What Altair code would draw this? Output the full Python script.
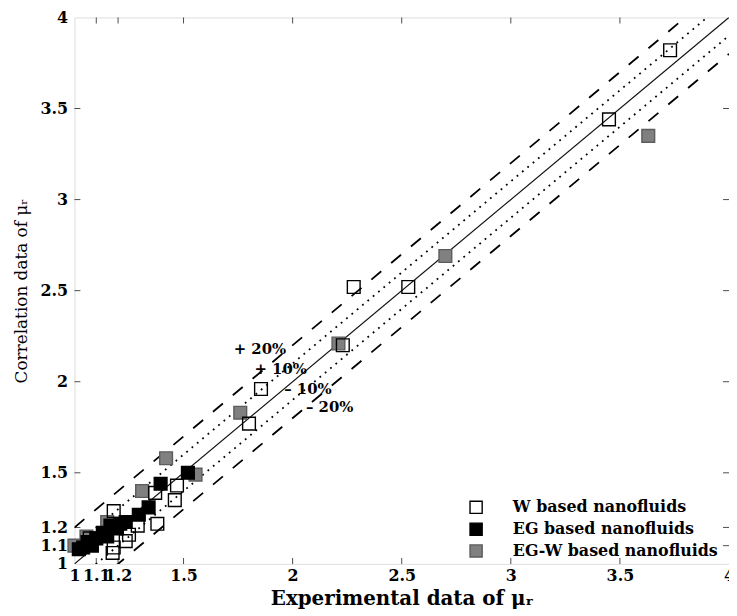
import altair as alt
import pandas as pd

# ---- data ----
W_x = [3.73, 3.45, 2.53, 2.28, 2.23, 1.855, 1.80, 1.47, 1.46, 1.37, 1.38, 1.29, 1.25, 1.235, 1.18, 1.18, 1.175, 1.07]
W_y = [3.82, 3.44, 2.52, 2.52, 2.20, 1.96, 1.77, 1.43, 1.35, 1.39, 1.22, 1.21, 1.16, 1.125, 1.29, 1.09, 1.06, 1.14]

EG_x = [1.52, 1.395, 1.34, 1.295, 1.235, 1.21, 1.195, 1.165, 1.15, 1.13, 1.10, 1.08, 1.06, 1.04, 1.02]
EG_y = [1.50, 1.44, 1.31, 1.27, 1.23, 1.22, 1.195, 1.21, 1.15, 1.17, 1.14, 1.10, 1.12, 1.09, 1.08]

EGW_x = [3.63, 2.70, 2.21, 1.76, 1.42, 1.555, 1.31, 1.15, 1.00, 1.055]
EGW_y = [3.35, 2.69, 2.21, 1.83, 1.58, 1.49, 1.40, 1.23, 1.10, 1.15]

series_names = ["W based nanofluids", "EG based nanofluids", "EG-W based nanofluids"]
fill_colors = ["transparent", "black", "#808080"]
stroke_colors = ["black", "black", "#5c5c5c"]

tick_values = [1, 1.1, 1.2, 1.5, 2, 2.5, 3, 3.5, 4]
inner_ticks = [1.1, 1.2, 1.5, 2, 2.5, 3, 3.5]

solid_offsets = [0.0]
dotted_offsets = [0.1, -0.1]
dashed_offsets = [0.2, -0.2]

band_labels = ["+ 20%", "+ 10%", "\u2013 10%", "\u2013 20%"]
band_label_x = [1.85, 1.945, 2.07, 2.17]
band_label_y = [2.18, 2.07, 1.96, 1.86]

# ---- tables ----
points = pd.concat([
    pd.DataFrame({"x": EGW_x, "y": EGW_y, "series": series_names[2]}),
    pd.DataFrame({"x": EG_x, "y": EG_y, "series": series_names[1]}),
    pd.DataFrame({"x": W_x, "y": W_y, "series": series_names[0]}),
], ignore_index=True)


def line_table(offsets):
    rows = []
    for c in offsets:
        for xv in (1.0, 4.0):
            rows.append({"x": xv, "y": xv + c, "k": str(c)})
    return pd.DataFrame(rows)


labels_df = pd.DataFrame({"x": band_label_x, "y": band_label_y, "t": band_labels})
ticks_df = pd.DataFrame({"x": inner_ticks, "y": inner_ticks})

FONT = "DejaVu Serif"
xs = alt.Scale(domain=[1, 4], nice=False, zero=False)
ys = alt.Scale(domain=[1, 4], nice=False, zero=False)

xaxis = alt.Axis(values=tick_values, format="~g", title="Experimental data of \u03bc\u1d63",
                 ticks=False, domain=False, grid=False, labelFlush=False, labelOverlap=False,
                 labelFont=FONT, labelFontWeight="bold", labelFontSize=16, labelColor="black",
                 labelPadding=4, titleFont=FONT, titleFontWeight="bold", titleFontSize=20,
                 titleColor="black", titlePadding=5)
yaxis = alt.Axis(values=tick_values, format="~g", title="Correlation data of \u03bc\u1d63",
                 ticks=False, domain=False, grid=False, labelFlush=False, labelOverlap=False,
                 labelFont=FONT, labelFontWeight="bold", labelFontSize=16, labelColor="black",
                 labelPadding=7, titleFont=FONT, titleFontWeight="normal", titleFontSize=17,
                 titleColor="black", titlePadding=10)

X = lambda: alt.X("x:Q", scale=xs, axis=xaxis)
Y = lambda: alt.Y("y:Q", scale=ys, axis=yaxis)

solid = alt.Chart(line_table(solid_offsets)).mark_line(
    clip=True, color="#111111", strokeWidth=1.2).encode(x=X(), y=Y(), detail="k:N")
dotted = alt.Chart(line_table(dotted_offsets)).mark_line(
    clip=True, color="black", strokeWidth=1.8, strokeDash=[1.8, 5.2]).encode(x=X(), y=Y(), detail="k:N")
dashed = alt.Chart(line_table(dashed_offsets)).mark_line(
    clip=True, color="black", strokeWidth=1.8, strokeDash=[13, 13]).encode(x=X(), y=Y(), detail="k:N")

texts = alt.Chart(labels_df).mark_text(
    font=FONT, fontWeight="bold", fontSize=15, color="black", align="center", baseline="middle"
).encode(x=X(), y=Y(), text="t:N")

legend = alt.Legend(title=None, orient="none", legendX=397, legendY=486, padding=0,
                    symbolType="square", symbolSize=150, symbolStrokeWidth=1.4,
                    labelFont=FONT, labelFontWeight="bold", labelFontSize=16, labelColor="black",
                    labelOffset=29, rowPadding=4, labelLimit=400)

pts = alt.Chart(points).mark_point(
    shape="square", filled=True, size=165, strokeWidth=1.4, opacity=1
).encode(
    x=X(), y=Y(),
    fill=alt.Fill("series:N", scale=alt.Scale(domain=series_names, range=fill_colors), legend=legend),
    stroke=alt.Stroke("series:N", scale=alt.Scale(domain=series_names, range=stroke_colors), legend=legend),
)

tick_b = alt.Chart(ticks_df).mark_tick(orient="vertical", size=6, thickness=1, color="black", yOffset=-3).encode(
    x=X(), y=alt.Y(datum=1, type="quantitative", scale=ys, axis=yaxis))
tick_t = alt.Chart(ticks_df).mark_tick(orient="vertical", size=6, thickness=1, color="black", yOffset=3).encode(
    x=X(), y=alt.Y(datum=4, type="quantitative", scale=ys, axis=yaxis))
tick_l = alt.Chart(ticks_df).mark_tick(orient="horizontal", size=6, thickness=1, color="black", xOffset=3).encode(
    y=Y(), x=alt.X(datum=1, type="quantitative", scale=xs, axis=xaxis))
tick_r = alt.Chart(ticks_df).mark_tick(orient="horizontal", size=6, thickness=1, color="black", xOffset=-3).encode(
    y=Y(), x=alt.X(datum=4, type="quantitative", scale=xs, axis=xaxis))

chart = alt.layer(dashed, dotted, solid, texts, pts, tick_b, tick_t, tick_l, tick_r).properties(
    width=660, height=551,
    autosize=alt.AutoSizeParams(type="none"),
    padding={"left": 67, "top": 7, "right": 0, "bottom": 44},
).configure_view(
    stroke="black", strokeWidth=1.2
).configure(background="white")

chart.save("out.html", embed_options={"renderer": "svg", "actions": False})
